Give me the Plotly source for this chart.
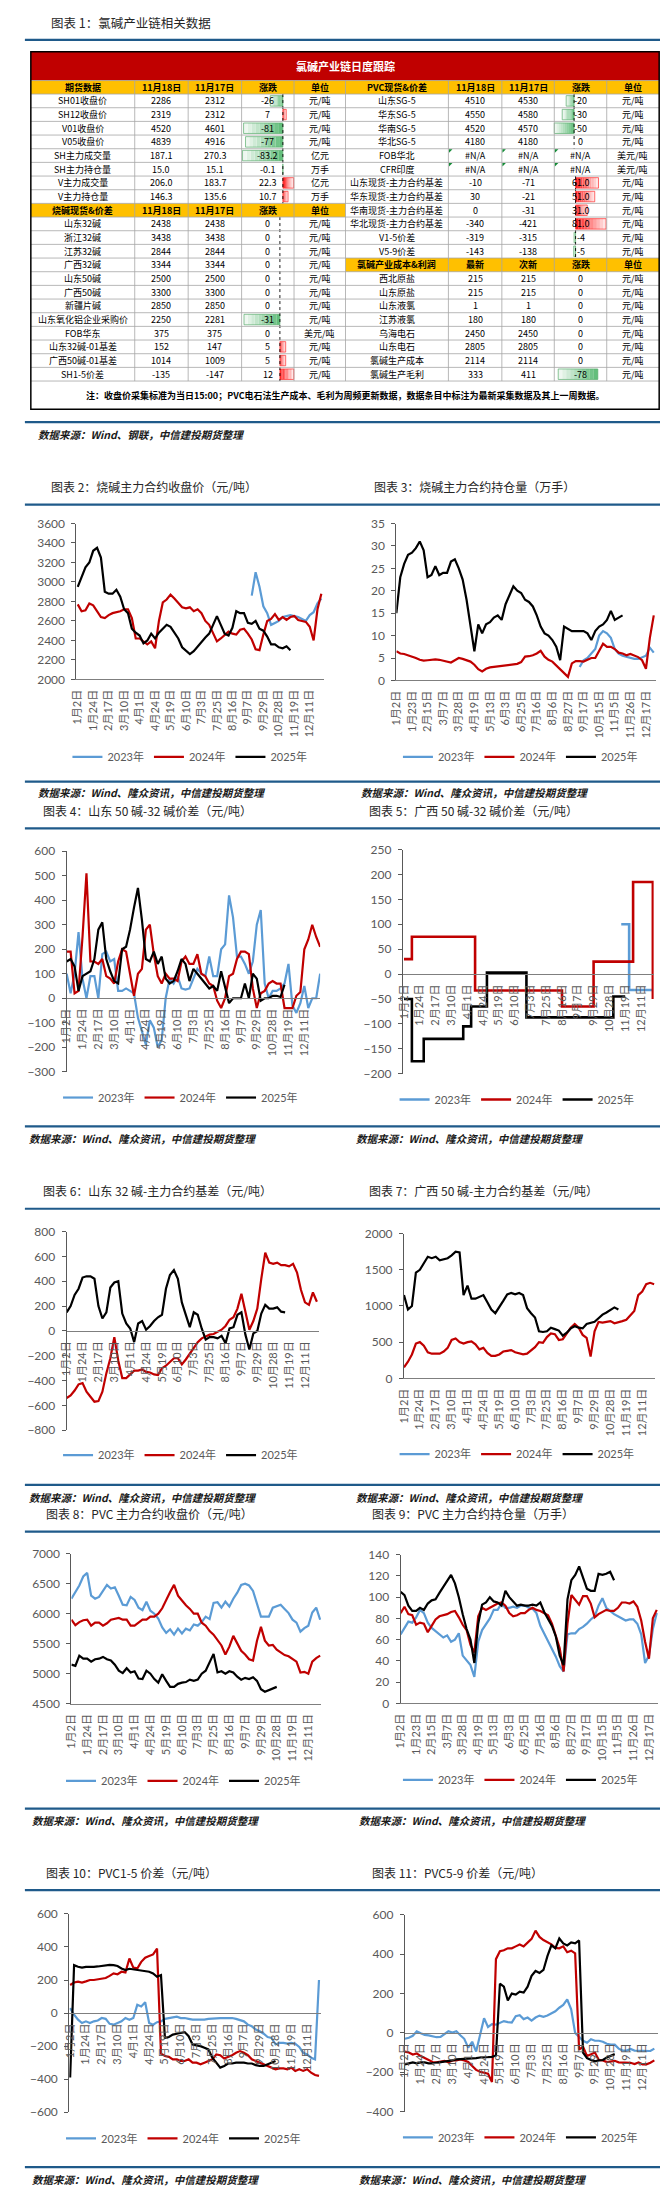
import plotly.graph_objects as go

W, H = 668, 2190
FONT_CJK = "Noto Sans CJK SC"
FONT_NUM = "Lato, Noto Sans CJK SC"

# ---------------- chart data ----------------
TICKS_A = ["1月2日", "1月24日", "2月17日", "3月10日", "4月1日", "4月24日", "5月19日", "6月10日",
           "7月3日", "7月25日", "8月16日", "9月7日", "9月29日", "10月28日", "11月19日", "12月11日"]
TICKS_B = ["1月2日", "1月23日", "2月15日", "3月7日", "3月28日", "4月19日", "5月13日", "6月3日", "6月25日",
           "7月16日", "8月6日", "8月27日", "9月17日", "10月15日", "11月5日", "11月26日", "12月17日"]
SERIES_NAMES = ["2023年", "2024年", "2025年"]
SERIES_COLORS = ["#5B9BD5", "#C00000", "#000000"]

# chart 2: 烧碱主力合约收盘价
c2_2023_start = 45
c2_2023 = [2860, 3100, 2950, 2750, 2680, 2560, 2580, 2600, 2640, 2650, 2660, 2650, 2640, 2620, 2600, 2660, 2690, 2780, 2830]
c2_2024 = [2770, 2700, 2710, 2780, 2760, 2700, 2640, 2630, 2660, 2680, 2690, 2700, 2720, 2720, 2630, 2420, 2420, 2390, 2360, 2390,
           2320, 2600, 2790, 2820, 2870, 2830, 2790, 2740, 2730, 2740, 2700, 2720, 2680, 2600, 2560, 2480, 2390, 2420, 2460, 2490,
           2470, 2460, 2510, 2520, 2470, 2410, 2310, 2300, 2460, 2600, 2620, 2670, 2610, 2640, 2610, 2640, 2650, 2610, 2600, 2590,
           2540, 2400, 2720, 2880]
c2_2025 = [2950, 3050, 3150, 3200, 3320, 3350, 3250, 2900, 2880, 2880, 2920, 2850, 2720, 2680, 2520, 2480, 2450, 2370, 2400, 2470,
           2420, 2480, 2520, 2560, 2540, 2480, 2420, 2330, 2290, 2260, 2290, 2340, 2390, 2430, 2470, 2560, 2650, 2560, 2470, 2450,
           2530, 2700, 2680, 2680, 2580, 2570, 2600, 2520, 2500, 2440, 2360, 2360, 2330, 2320, 2340, 2300]

# chart 3: 烧碱主力合约持仓量
c3_2023_start = 47
c3_2023 = [3, 4.5, 5, 6, 7, 10, 11, 10.5, 9.5, 7, 6, 5.5, 5.3, 5, 4.8, 4.8, 5.2, 5.5, 7.3, 6.2]
c3_2024 = [6.5, 6, 5.9, 5.6, 5.4, 5, 4.6, 4.4, 4.5, 4.6, 4.7, 4.6, 4.4, 4.1, 4, 4.5, 5, 4.8, 4.5, 4.2, 3.5, 2.5, 2, 2.6, 2.9,
           3, 3.1, 3.2, 3.3, 3.4, 3.5, 3.7, 4.1, 5.3, 5.4, 5.6, 6, 6.6, 5.3, 4.6, 4.2, 3.4, 2.5, 1.8, 0.8, 3.8, 4.3, 4.3, 4.2,
           4.6, 5, 5, 6.5, 8.2, 7.5, 7.5, 7, 6.2, 6, 5.6, 5.9, 5.6, 5.2, 4.5, 2.6, 9.5, 14.5]
c3_2025 = [15, 23, 26, 28, 28.5, 29.5, 31, 29, 23, 23.5, 25.5, 23.5, 24, 24, 26.5, 27, 25, 22.5, 18, 12, 6.5, 12.5, 10.5, 12.5,
           13, 14, 14.5, 13.5, 17, 19, 21, 20, 19.5, 18, 17.5, 16.5, 14.5, 12, 10.5, 10, 9, 7.5, 4.5, 12, 11.5, 11, 11, 11, 11,
           10.5, 9, 11, 12, 12.5, 13.5, 15.5, 13.5, 14, 14.5]

# chart 4: 山东50碱-32碱价差
c4_2023 = [100, 20, 100, 270, 80, 0, 90, 90, 0, 180, 190, 150, 160, 30, 30, 40, 30, 20, -80, -140, -190, -90, -120, -200, -170,
           0, 80, 60, 90, 40, 35, 40, 80, 120, 100, 90, 170, 90, 90, 200, 220, 420, 330, 170, 170, 140, 100, 150, 300, 360, 60,
           0, 30, 30, 40, 60, 140, -30, -60, -20, 50, -40, 0, 0, 100]
c4_2024 = [190, 190, 20, 30, 250, 510, 150, 150, 140, 160, 90, 80, 60, 150, 200, 190, 100, 10, 100, 120, 280, 300, 180, 90, 60,
           100, 80, 80, 70, 150, 170, 140, 140, 180, 100, 90, 60, 50, -10, -40, 0, 90, 100, 160, 190, 190, 180, 40, -40, 20, 30,
           60, 70, 60, 60, -40, -40, -40, 10, 25, 200, 240, 300, 250, 210]
c4_2025 = [150, 160, 130, 30, 90, 100, 110, 160, 280, 310, 160, 110, 70, 60, 200, 210, 280, 370, 450, 320, 160, 150, 190, 140, 170,
           80, 60, 70, 110, 160, 140, 70, 120, 100, 80, 60, 40, 50, 30, 110, 40, -20, 0, 0, 0, 60, 0, 100, 80, -10, 0, 0, 10, 10,
           5, 55]

# chart 5: 广西50碱-32碱价差 (step changes: position, value)
c5_2023_x = [55, 57, 63]
c5_2023 = [100, -32, -32]
c5_2024_x = [0, 2, 18, 40, 48, 58, 63]
c5_2024 = [30, 75, -33, -65, 25, 185, -50]
c5_2025_x = [0, 2, 5, 15, 17, 21, 31, 53, 56]
c5_2025 = [-50, -175, -130, -105, -65, 3, -87, -45, -45]

# chart 6: 山东32碱-主力合约基差
c6_2024 = [-540, -520, -480, -430, -420, -490, -530, -570, -565, -490, -340, -220, -50, -240, -380, -380, -350, -320, -320, -310,
           -330, -335, -350, -355, -300, -280, -250, -220, -220, -270, -230, -180, -130, -90, -60, -45, -30, -25, -10, 10, 40,
           90, 110, 180, 300, 160, 10, 80, 180, 420, 630, 550, 540, 550, 530, 530, 520, 540, 470, 330, 230, 210, 310, 235]
c6_2025 = [150, 200, 290, 340, 430, 440, 440, 420, 200, 100, 150, 350, 390, 400, 140, 60, 20, -90, 60, 80, 10, 40, 80, 110, 130,
           340, 450, 490, 420, 230, 130, 30, 150, 130, 20, -70, -50, -50, -60, -40, -100, 20, 30, 130, 150, -30, -150, -20, 0,
           140, 210, 180, 180, 190, 155, 150]

# chart 7: 广西50碱-主力合约基差
c7_2024 = [150, 230, 330, 480, 500, 450, 360, 340, 340, 340, 370, 420, 530, 550, 500, 480, 500, 510, 470, 400, 420, 350, 310, 310,
           330, 370, 380, 390, 360, 340, 330, 340, 380, 430, 500, 490, 570, 620, 610, 530, 540, 620, 700, 750, 700, 600, 560,
           300, 650, 780, 770, 780, 790, 760, 770, 790, 810, 870, 930, 1150, 1200, 1300, 1320, 1300]
c7_2025 = [1150, 950, 1000, 1460, 1500, 1600, 1680, 1660, 1680, 1630, 1650, 1660, 1700, 1750, 1740, 1150, 1280, 1100, 1100, 1130,
           1150, 1050, 950, 900, 980, 1070, 1160, 1180, 1160, 1180, 1150, 970, 900, 840, 650, 640, 650, 700, 680, 660, 590, 630,
           690, 720, 700, 690, 750, 760, 780, 830, 880, 910, 950, 980, 950]

# chart 8: PVC主力合约收盘价
c8_2023 = [6250, 6370, 6470, 6620, 6680, 6300, 6250, 6280, 6380, 6480, 6420, 6440, 6300, 6150, 6140, 6280, 6230, 6100, 6060, 6200,
           6050, 6000, 5920, 5770, 5680, 5740, 5650, 5750, 5670, 5750, 5720, 5820, 5800, 5860, 5950, 5910, 6180, 6190, 6100, 6200,
           6120, 6250, 6350, 6480, 6500, 6470, 6380, 6180, 5950, 5950, 5950, 6100, 6120, 6150, 6080, 6010, 5900, 5850, 5700, 5760,
           5800, 6020, 6100, 5900]
c8_2024 = [5900, 5810, 5860, 5890, 5900, 5800, 5850, 5850, 5800, 5840, 5900, 5910, 5930, 5900, 5900, 5800, 5800, 5850, 5900, 5900,
           5950, 5950, 6000, 6090, 6230, 6360, 6480, 6300, 6220, 6140, 6080, 6000, 6000, 5850, 5800, 5710, 5650, 5560, 5470, 5320,
           5450, 5630, 5500, 5380, 5320, 5240, 5220, 5550, 5780, 5550, 5470, 5480, 5400, 5360, 5310, 5290, 5250, 5200, 5020, 5030,
           5000, 5200, 5260, 5300]
c8_2025 = [5150, 5130, 5300, 5250, 5250, 5200, 5240, 5250, 5280, 5240, 5220, 5150, 5050, 5010, 5090, 5020, 5040, 4920, 4910, 5050,
           5000, 4910, 4850, 4990, 4880, 4780, 4780, 4830, 4850, 4860, 4900, 4880, 4900, 5000, 5050, 5180, 5330, 5020, 5040, 5000,
           5040, 5020, 4950, 4900, 4930, 4910, 4940, 4880, 4740, 4700, 4730, 4750, 4780]

# chart 9: PVC主力合约持仓量
c9_2023 = [65, 71, 77, 76, 81, 88, 85, 76, 71, 68, 65, 62, 64, 58, 60, 66, 45, 40, 36, 25, 58, 69, 75, 80, 88, 88, 94, 90, 90, 91,
           90, 92, 92, 90, 89, 85, 73, 66, 59, 52, 44, 35, 30, 65, 66, 66, 70, 72, 75, 79, 82, 92, 99, 90, 87, 84, 82, 80, 78, 79,
           79, 75, 65, 38, 45, 70, 85]
c9_2024 = [85, 91, 84, 83, 74, 76, 75, 67, 73, 79, 82, 83, 84, 86, 87, 81, 74, 69, 55, 48, 82, 90, 88, 90, 92, 94, 95, 92, 85, 82,
           83, 85, 85, 88, 90, 88, 87, 85, 83, 75, 63, 52, 30, 75, 102, 97, 93, 101, 101, 94, 81, 84, 86, 88, 87, 87, 90, 95, 95,
           94, 96, 91, 78, 58, 42, 80, 88]
c9_2025 = [105, 102, 92, 87, 87, 90, 88, 94, 97, 98, 104, 110, 115, 121, 113, 100, 84, 70, 60, 38, 75, 93, 95, 100, 96, 95, 92,
           106, 100, 96, 92, 93, 92, 92, 93, 92, 95, 86, 79, 73, 63, 45, 36, 98, 116, 121, 129, 118, 108, 106, 106, 122, 121, 122,
           124, 116]

# chart 10: PVC1-5价差
c10_2023 = [30, -10, -40, -60, -50, -60, -50, -45, -30, -35, -65, -70, -60, -50, -30, -40, -30, 50, 40, 65, -60, -70, -55, -50,
            -35, -30, -28, -22, -30, -30, -35, -40, -40, -40, -40, -35, -35, -32, -30, -30, -30, -30, -35, -42, -50, -70, -80,
            -100, -110, -125, -145, -150, -190, -180, -180, -185, -180, -185, -205, -240, -250, -270, -280, 200]
c10_2024 = [170, 185, 190, 185, 192, 200, 200, 205, 210, 212, 225, 240, 235, 250, 245, 330, 275, 270, 310, 335, 345, 355, 390,
            -245, -260, -265, -280, -280, -290, -290, -280, -300, -300, -310, -300, -290, -280, -250, -255, -275, -265, -255,
            -240, -230, -240, -255, -280, -290, -300, -310, -320, -330, -340, -335, -335, -340, -330, -350, -340, -350, -340,
            -360, -375, -380]
c10_2025 = [-390, 290, 280, 275, 280, 278, 280, 282, 285, 290, 292, 290, 285, 270, 260, 268, 265, 262, 258, 255, 250, 240, 220,
            230, -150, -145, -130, -125, -120, -115, -140, -190, -195, -200, -210, -220, -270, -300, -330, -320, -305, -305,
            -300, -300, -300, -305, -305, -315, -320, -320, -310, -300, -290]

# chart 11: PVC5-9价差
c11_2023 = [-30, -25, -15, 8, -2, -10, -13, -18, -22, -20, -5, 8, 2, 8, -12, -30, -75, -45, -95, -10, 75, 30, 45, 42, 52, 60, 55,
            52, 85, 90, 70, 78, 62, 78, 88, 82, 88, 98, 110, 128, 142, 170, 120, 0, -20, -40, -50, -32, -40, -40, -45, -55, -60,
            -60, -80, -90, -90, -82, -90, -90, -92, -90, -92, -80]
c11_2024 = [-95, -100, -110, -105, -118, -128, -138, -148, -150, -145, -142, -150, -140, -140, -135, -140, -148, -168, -188, -198,
            -204, -208, -250, 375, 415, 420, 430, 430, 440, 450, 440, 458, 478, 520, 488, 472, 462, 450, 432, 430, 440, 410, 418,
            405, -85, -70, -118, -110, -100, -138, -140, -148, -145, -142, -150, -150, -150, -152, -158, -150, -160, -160, -152,
            -140]
c11_2025 = [-160, -155, -150, -155, -150, -150, -155, -155, -152, -150, -148, -144, -140, -135, -134, -130, -130, -130, -128, -125,
            -125, -122, -122, -115, 250, 235, 165, 200, 195, 210, 205, 235, 290, 315, 305, 320, 390, 445, 430, 480, 455, 445, 460,
            455, 470, -100, -128, -138, -145, -140, -138, -125, -115, -108]

# ---------------- table data ----------------
TABLE_TITLE = "氯碱产业链日度跟踪"
TABLE_HEAD_L = ["期货数据", "11月18日", "11月17日", "涨跌", "单位"]
TABLE_HEAD_R = ["PVC现货&价差", "11月18日", "11月17日", "涨跌", "单位"]
LEFT_ROWS = [
    ["SH01收盘价", "2286", "2312", "-26", "元/吨"],
    ["SH12收盘价", "2319", "2312", "7", "元/吨"],
    ["V01收盘价", "4520", "4601", "-81", "元/吨"],
    ["V05收盘价", "4839", "4916", "-77", "元/吨"],
    ["SH主力成交量", "187.1", "270.3", "-83.2", "亿元"],
    ["SH主力持仓量", "15.0", "15.1", "-0.1", "万手"],
    ["V主力成交量", "206.0", "183.7", "22.3", "亿元"],
    ["V主力持仓量", "146.3", "135.6", "10.7", "万手"],
    ["烧碱现货&价差", "11月18日", "11月17日", "涨跌", "单位"],
    ["山东32碱", "2438", "2438", "0", "元/吨"],
    ["浙江32碱", "3438", "3438", "0", "元/吨"],
    ["江苏32碱", "2844", "2844", "0", "元/吨"],
    ["广西32碱", "3344", "3344", "0", "元/吨"],
    ["山东50碱", "2500", "2500", "0", "元/吨"],
    ["广西50碱", "3300", "3300", "0", "元/吨"],
    ["新疆片碱", "2850", "2850", "0", "元/吨"],
    ["山东氧化铝企业采购价", "2250", "2281", "-31", "元/吨"],
    ["FOB华东", "375", "375", "0", "美元/吨"],
    ["山东32碱-01基差", "152", "147", "5", "元/吨"],
    ["广西50碱-01基差", "1014", "1009", "5", "元/吨"],
    ["SH1-5价差", "-135", "-147", "12", "元/吨"],
]
LEFT_HEADER_ROWS = [8]
RIGHT_ROWS = [
    ["山东SG-5", "4510", "4530", "-20", "元/吨"],
    ["华东SG-5", "4550", "4580", "-30", "元/吨"],
    ["华南SG-5", "4520", "4570", "-50", "元/吨"],
    ["华北SG-5", "4180", "4180", "0", "元/吨"],
    ["FOB华北", "#N/A", "#N/A", "#N/A", "美元/吨"],
    ["CFR印度", "#N/A", "#N/A", "#N/A", "美元/吨"],
    ["山东现货-主力合约基差", "-10", "-71", "61.0", "元/吨"],
    ["华东现货-主力合约基差", "30", "-21", "51.0", "元/吨"],
    ["华南现货-主力合约基差", "0", "-31", "31.0", "元/吨"],
    ["华北现货-主力合约基差", "-340", "-421", "81.0", "元/吨"],
    ["V1-5价差", "-319", "-315", "-4", "元/吨"],
    ["V5-9价差", "-143", "-138", "-5", "元/吨"],
    ["氯碱产业成本&利润", "最新", "次新", "涨跌", "单位"],
    ["西北原盐", "215", "215", "0", "元/吨"],
    ["山东原盐", "215", "215", "0", "元/吨"],
    ["山东液氯", "1", "1", "0", "元/吨"],
    ["江苏液氯", "180", "180", "0", "元/吨"],
    ["乌海电石", "2450", "2450", "0", "元/吨"],
    ["山东电石", "2805", "2805", "0", "元/吨"],
    ["氯碱生产成本", "2114", "2114", "0", "元/吨"],
    ["氯碱生产毛利", "333", "411", "-78", "元/吨"],
]
RIGHT_HEADER_ROWS = [12]
TABLE_NOTE = "注：收盘价采集标准为当日15:00；PVC电石法生产成本、毛利为周频更新数据，数据条目中标注为最新采集数据及其上一周数据。"

# ---------------- layout geometry (pixels) ----------------
COLS = [16, 121, 175, 229, 282, 334, 438, 492, 545, 598, 651]
T_TOP, T_TITLE_BOT, T_HEAD_BOT, ROW_H, T_NOTE_BOT = 36, 65, 78.6, 13.76, 396
# (side, rows, axis px, px per unit, dashed axis)
BAR_GROUPS = [
    ("L", list(range(0, 8)), 270.7, 0.49, True),
    ("L", list(range(9, 21)), 267.7, 1.17, True),
    ("R", list(range(0, 4)), 565.0, 0.40, True),
    ("R", list(range(6, 12)), 566.5, 0.38, True),
    ("R", [20], 589.0, 0.513, False),
]
BLUE_LINES = [24, 409, 492, 771, 818, 1118, 1201, 1479, 1526, 1805, 1887, 2166]
SRC1 = "数据来源：Wind、钢联，中信建投期货整理"
SRC2 = "数据来源：Wind、隆众资讯，中信建投期货整理"
SOURCES = [(21, 421, SRC1), (21, 782, SRC2), (348, 782, SRC2), (12, 1130, SRC2), (343, 1130, SRC2),
           (12, 1492, SRC2), (343, 1492, SRC2), (15, 1817, SRC2), (346, 1817, SRC2), (15, 2178, SRC2), (346, 2178, SRC2)]


def seq(vals, start=0):
    return list(range(start, start + len(vals))), vals


CHARTS = [
    dict(title="图表 2：烧碱主力合约收盘价（元/吨）", tpos=(34, 474), ticks=TICKS_A,
         series=[seq(c2_2023, c2_2023_start), seq(c2_2024), seq(c2_2025)],
         xpx=(62.1, 312.6), xr=(-0.33, 63.77), ypx=(511, 668), yr=(2000, 3600), dy=200, zero=None, leg=(60, 746)),
    dict(title="图表 3：烧碱主力合约持仓量（万手）", tpos=(361, 474), ticks=TICKS_B,
         series=[seq(c3_2023, c3_2023_start), seq(c3_2024), seq(c3_2025)],
         xpx=(385.4, 647.5), xr=(0, 66.5), ypx=(511, 669), yr=(0, 35), dy=5, zero=None, leg=(394, 746)),
    dict(title="图表 4：山东 50 碱-32 碱价差（元/吨）", tpos=(26, 800), ticks=TICKS_A,
         series=[seq(c4_2023), seq(c4_2024), seq(c4_2025)],
         xpx=(52.2, 308.4), xr=(0, 64), ypx=(841, 1063), yr=(-300, 600), dy=100, zero=989, leg=(50.5, 1089)),
    dict(title="图表 5：广西 50 碱-32 碱价差（元/吨）", tpos=(356, 800), ticks=TICKS_A,
         series=[(c5_2023_x, c5_2023), (c5_2024_x, c5_2024), (c5_2025_x, c5_2025)], shape="hv",
         xpx=(391.9, 645.4), xr=(-0.3, 63.2), ypx=(839.3, 1065), yr=(-200, 250), dy=50, zero=964.7, leg=(390.6, 1091)),
    dict(title="图表 6：山东 32 碱-主力合约基差（元/吨）", tpos=(26, 1183), ticks=TICKS_A,
         series=[([None], [None]), seq(c6_2024), seq(c6_2025)],
         xpx=(52.2, 307.5), xr=(0, 63.6), ypx=(1224, 1424), yr=(-800, 800), dy=200, zero=1324, leg=(50.5, 1449)),
    dict(title="图表 7：广西 50 碱-主力合约基差（元/吨）", tpos=(356, 1183), ticks=TICKS_A,
         series=[([None], [None]), seq(c7_2024), seq(c7_2025)],
         xpx=(393.1, 646.7), xr=(0, 63.2), ypx=(1226, 1371.7), yr=(0, 2000), dy=500, zero=None, leg=(390.6, 1448)),
    dict(title="图表 8：PVC 主力合约收盘价（元/吨）", tpos=(29, 1508), ticks=TICKS_A,
         series=[seq(c8_2023), seq(c8_2024), seq(c8_2025)],
         xpx=(57, 309.2), xr=(0, 63.2), ypx=(1548.3, 1699.3), yr=(4500, 7000), dy=500, zero=None, leg=(53.5, 1777)),
    dict(title="图表 9：PVC 主力合约持仓量（万手）", tpos=(359, 1508), ticks=TICKS_B,
         series=[seq(c9_2023), seq(c9_2024), seq(c9_2025)],
         xpx=(389.7, 650.1), xr=(0, 66.4), ypx=(1549.3, 1699), yr=(0, 140), dy=20, zero=None, leg=(394, 1776)),
    dict(title="图表 10：PVC1-5 价差（元/吨）", tpos=(29, 1869), ticks=TICKS_A,
         series=[seq(c10_2023), seq(c10_2024), seq(c10_2025)],
         xpx=(54.8, 309.2), xr=(-0.23, 63.5), ypx=(1911, 2110.7), yr=(-600, 600), dy=200, zero=2010.9, leg=(53.5, 2137)),
    dict(title="图表 11：PVC5-9 价差（元/吨）", tpos=(359, 1869), ticks=TICKS_A,
         series=[seq(c11_2023), seq(c11_2024), seq(c11_2025)],
         xpx=(394, 650.1), xr=(0, 64), ypx=(1912, 2110), yr=(-400, 600), dy=200, zero=2030.8, leg=(394, 2136)),
]


def fx(x):
    return x / W


def fy(y):
    return 1 - y / H


shapes = []
annotations = []


def text(x, y, s, size, color="#000000", bold=False, italic=False, xanchor="center", family=FONT_CJK):
    if bold:
        s = "<b>" + s + "</b>"
    if italic:
        s = "<i>" + s + "</i>"
    annotations.append(dict(x=fx(x), y=fy(y), xref="paper", yref="paper", text=s, showarrow=False,
                            xanchor=xanchor, yanchor="middle", font=dict(size=size, color=color, family=family)))


def rect(x0, y0, x1, y1, fill=None, line_color=None, lw=0):
    shapes.append(dict(type="rect", xref="paper", yref="paper", x0=fx(x0), x1=fx(x1), y0=fy(y0), y1=fy(y1),
                       fillcolor=fill if fill else "rgba(0,0,0,0)",
                       line=dict(color=line_color if line_color else "rgba(0,0,0,0)", width=lw)))


def line(x0, y0, x1, y1, color, lw, dash="solid"):
    shapes.append(dict(type="line", xref="paper", yref="paper", x0=fx(x0), x1=fx(x1), y0=fy(y0), y1=fy(y1),
                       line=dict(color=color, width=lw, dash=dash)))


def mix(c1, c2, t):
    a = [int(c1[i:i + 2], 16) for i in (1, 3, 5)]
    b = [int(c2[i:i + 2], 16) for i in (1, 3, 5)]
    return "#" + "".join("%02X" % int(round(a[k] + (b[k] - a[k]) * t)) for k in range(3))


# ---------------- table ----------------
def row_top(i):
    return T_HEAD_BOT + i * ROW_H


T_BOT = row_top(len(LEFT_ROWS))
rect(COLS[0], T_TOP, COLS[-1], T_TITLE_BOT, fill="#C00000")
rect(COLS[0], T_TITLE_BOT, COLS[-1], T_HEAD_BOT, fill="#FFC000")
for i in LEFT_HEADER_ROWS:
    rect(COLS[0], row_top(i), COLS[5], row_top(i + 1), fill="#FFC000")
for i in RIGHT_HEADER_ROWS:
    rect(COLS[5], row_top(i), COLS[10], row_top(i + 1), fill="#FFC000")

# data bars
for side, rows, axis_x, scale, dashed in BAR_GROUPS:
    src = LEFT_ROWS if side == "L" else RIGHT_ROWS
    for i in rows:
        try:
            v = float(src[i][3])
        except ValueError:
            continue
        if v == 0:
            continue
        length = v * scale
        y0, y1 = row_top(i) + 1.6, row_top(i + 1) - 1.6
        if v < 0:
            full, light, border = "#63BE7B", "#EEF7F0", "#5AAE6E"
        else:
            full, light, border = "#FF1F1F", "#FFE4E4", "#FF3030"
        n = 10
        for k in range(n):
            a0 = axis_x + length * k / n
            a1 = axis_x + length * (k + 1) / n
            rect(min(a0, a1), y0, max(a0, a1), y1, fill=mix(full, light, k / (n - 1)))
        rect(min(axis_x, axis_x + length), y0, max(axis_x, axis_x + length), y1, line_color=border, lw=0.7)
    if dashed:
        line(axis_x, row_top(rows[0]), axis_x, row_top(rows[-1] + 1), "#000000", 0.9, "dot")

# grid lines
for i in range(len(LEFT_ROWS) + 1):
    line(COLS[0], row_top(i), COLS[-1], row_top(i), "#A6A6A6", 0.8)
line(COLS[0], T_TITLE_BOT, COLS[-1], T_TITLE_BOT, "#A6A6A6", 0.8)
for c in COLS[1:-1]:
    line(c, T_TITLE_BOT, c, T_BOT, "#A6A6A6", 0.8)
rect(COLS[0], T_TOP, COLS[-1], T_NOTE_BOT, line_color="#000000", lw=1.5)

# #N/A error markers
for i, r in enumerate(RIGHT_ROWS):
    for j in (1, 2, 3):
        if r[j] == "#N/A":
            x0, y0 = COLS[5 + j] + 0.6, row_top(i) + 0.6
            shapes.append(dict(type="path", xref="paper", yref="paper",
                               path="M %f,%f L %f,%f L %f,%f Z" % (fx(x0), fy(y0), fx(x0 + 3.5), fy(y0), fx(x0), fy(y0 + 3.5)),
                               fillcolor="#138A36", line=dict(width=0)))

# table texts
text((COLS[0] + COLS[-1]) / 2, (T_TOP + T_TITLE_BOT) / 2, TABLE_TITLE, 11, color="#FFFFFF", bold=True)
hy = (T_TITLE_BOT + T_HEAD_BOT) / 2
for j, s in enumerate(TABLE_HEAD_L + TABLE_HEAD_R):
    text((COLS[j] + COLS[j + 1]) / 2, hy, s, 9, bold=True)
for side, rows, hdr in (("L", LEFT_ROWS, LEFT_HEADER_ROWS), ("R", RIGHT_ROWS, RIGHT_HEADER_ROWS)):
    off = 0 if side == "L" else 5
    for i, r in enumerate(rows):
        cy = row_top(i) + ROW_H / 2
        for j, s in enumerate(r):
            text((COLS[off + j] + COLS[off + j + 1]) / 2, cy, s, 9, bold=(i in hdr))
text((COLS[0] + COLS[-1]) / 2, (T_BOT + T_NOTE_BOT) / 2, TABLE_NOTE, 9, bold=True)
text(34, 7, "图表 1：氯碱产业链相关数据", 12.5, color="#262626", xanchor="left")

# blue separators and sources
for y in BLUE_LINES:
    line(10, y, 666, y, "#1F5A8A", 2.2)
for x, y, s in SOURCES:
    text(x, y, s, 10.5, color="#1A1A1A", bold=True, italic=True, xanchor="left")

# ---------------- charts ----------------
fig = go.Figure()
layout = {}
for k, ch in enumerate(CHARTS):
    n = k + 1
    xa = "xaxis" if n == 1 else "xaxis%d" % n
    ya = "yaxis" if n == 1 else "yaxis%d" % n
    xr_ = "x" if n == 1 else "x%d" % n
    yr_ = "y" if n == 1 else "y%d" % n
    lg = "legend" if n == 1 else "legend%d" % n
    for (xs, ys), name, color in zip(ch["series"], SERIES_NAMES, SERIES_COLORS):
        fig.add_trace(go.Scatter(x=xs, y=ys, mode="lines", name=name, xaxis=xr_, yaxis=yr_, legend=lg,
                                 line=dict(color=color, width=2.6 if ch.get("shape") else 2.2,
                                           shape=ch.get("shape", "linear")),
                                 connectgaps=False, hoverinfo="skip"))
    tickvals = list(range(0, 4 * len(ch["ticks"]), 4))
    xax = dict(domain=[fx(ch["xpx"][0]), fx(ch["xpx"][1])], range=list(ch["xr"]), tickvals=tickvals,
               ticktext=ch["ticks"], tickangle=-90, showgrid=False, zeroline=False, showline=True,
               linecolor="#7F7F7F", linewidth=1, ticks="", ticklabelstandoff=5,
               tickfont=dict(size=11, color="#595959", family=FONT_NUM), fixedrange=True)
    if ch["zero"] is None:
        xax["anchor"] = yr_
    else:
        xax["anchor"] = "free"
        xax["position"] = fy(ch["zero"])
    lo, hi = ch["yr"]
    yax = dict(domain=[fy(ch["ypx"][1]), fy(ch["ypx"][0])], range=[lo, hi], anchor=xr_,
               tickvals=list(range(lo, hi + 1, ch["dy"])), showgrid=False, zeroline=False, showline=True,
               linecolor="#595959", linewidth=1, ticks="outside", ticklen=4, tickcolor="#595959",
               ticklabelstandoff=4, tickfont=dict(size=12, color="#595959", family=FONT_NUM), fixedrange=True)
    layout[xa] = xax
    layout[ya] = yax
    layout[lg] = dict(orientation="h", x=fx(ch["leg"][0] - 7), y=fy(ch["leg"][1]), xanchor="left", yanchor="middle",
                      font=dict(size=11, color="#595959", family=FONT_NUM), bgcolor="rgba(0,0,0,0)",
                      borderwidth=0, entrywidth=36.5, entrywidthmode="pixels", itemclick=False,
                      itemdoubleclick=False, tracegroupgap=0)
    text(ch["tpos"][0], ch["tpos"][1], ch["title"], 12, color="#262626", xanchor="left")

fig.update_layout(width=W, height=H, autosize=False, margin=dict(l=0, r=0, t=0, b=0),
                  paper_bgcolor="#FFFFFF", plot_bgcolor="rgba(0,0,0,0)", shapes=shapes,
                  annotations=annotations, showlegend=True, hovermode=False, **layout)
fig.write_html("out.html")
